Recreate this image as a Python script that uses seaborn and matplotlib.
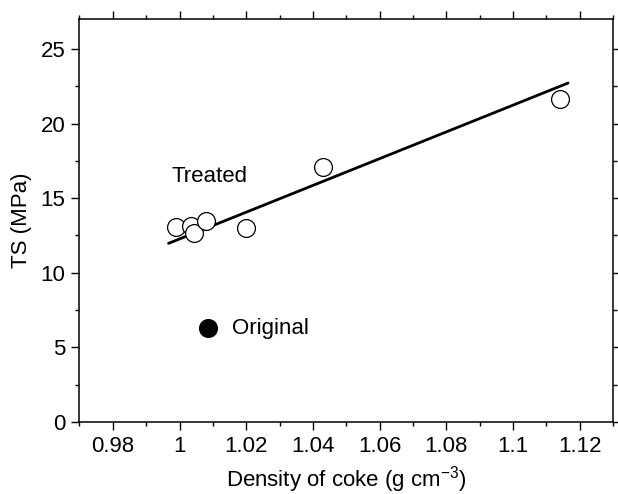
import matplotlib
matplotlib.use("Agg")
import matplotlib.pyplot as plt
from matplotlib.ticker import MultipleLocator, FixedLocator
import seaborn as sns
import pandas as pd

# Data
treated_x = [0.9989, 1.0034, 1.0044, 1.0080, 1.0200, 1.0431, 1.1140]
treated_y = [13.09, 13.13, 12.64, 13.49, 12.98, 17.07, 21.66]
original_x = [1.0086]
original_y = [6.27]
fit_x = [0.9967, 1.1165]
fit_y = [11.97, 22.71]
x_ticks = [0.98, 1.00, 1.02, 1.04, 1.06, 1.08, 1.10, 1.12]
x_tick_labels = ["0.98", "1", "1.02", "1.04", "1.06", "1.08", "1.1", "1.12"]
y_ticks = [0, 5, 10, 15, 20, 25]

sns.set_style("ticks")
plt.rcParams["font.family"] = ["Liberation Sans", "DejaVu Sans"]
plt.rcParams["mathtext.fontset"] = "custom"
plt.rcParams["mathtext.rm"] = "Liberation Sans"
plt.rcParams["mathtext.it"] = "Liberation Sans"
plt.rcParams["mathtext.default"] = "regular"
plt.rcParams["text.color"] = "black"
plt.rcParams["axes.labelcolor"] = "black"
plt.rcParams["xtick.color"] = "black"
plt.rcParams["ytick.color"] = "black"

FS = 16

fig = plt.figure(figsize=(6.18, 4.94), dpi=100)
ax = fig.add_axes([0.1286, 0.1457, 0.992 - 0.1286, 0.9615 - 0.1457])

df_t = pd.DataFrame({"x": treated_x, "y": treated_y})
df_o = pd.DataFrame({"x": original_x, "y": original_y})
df_f = pd.DataFrame({"x": fit_x, "y": fit_y})

sns.lineplot(data=df_f, x="x", y="y", ax=ax, color="black", linewidth=2.0, zorder=2)
sns.scatterplot(data=df_t, x="x", y="y", ax=ax, s=165, facecolor="white",
                edgecolor="black", linewidth=0.9, zorder=3)
sns.scatterplot(data=df_o, x="x", y="y", ax=ax, s=165, color="black",
                edgecolor="black", linewidth=0.9, zorder=3)

ax.text(0.9975, 16.42, "Treated", fontsize=FS, va="center", ha="left", color="black")
ax.text(1.0157, 6.29, "Original", fontsize=FS, va="center", ha="left", color="black")

ax.set_xlim(0.97, 1.13)
ax.set_ylim(0, 27)
ax.xaxis.set_major_locator(FixedLocator(x_ticks))
ax.set_xticklabels(x_tick_labels)
ax.xaxis.set_minor_locator(MultipleLocator(0.01))
ax.yaxis.set_major_locator(FixedLocator(y_ticks))
ax.yaxis.set_minor_locator(MultipleLocator(2.5))

ax.tick_params(which="both", direction="out", top=True, right=True,
               labeltop=False, labelright=False, width=1.0, color="black",
               labelcolor="black")
ax.tick_params(which="major", length=6, labelsize=FS, pad=4)
ax.tick_params(which="minor", length=3)

for s in ax.spines.values():
    s.set_linewidth(1.1)
    s.set_color("black")
    s.set_visible(True)

ax.set_xlabel(r"Density of coke (g cm$^{-3}$)", fontsize=FS, labelpad=5, color="black")
ax.set_ylabel("TS (MPa)", fontsize=FS, labelpad=6, color="black")

fig.savefig("out.png", dpi=100)
